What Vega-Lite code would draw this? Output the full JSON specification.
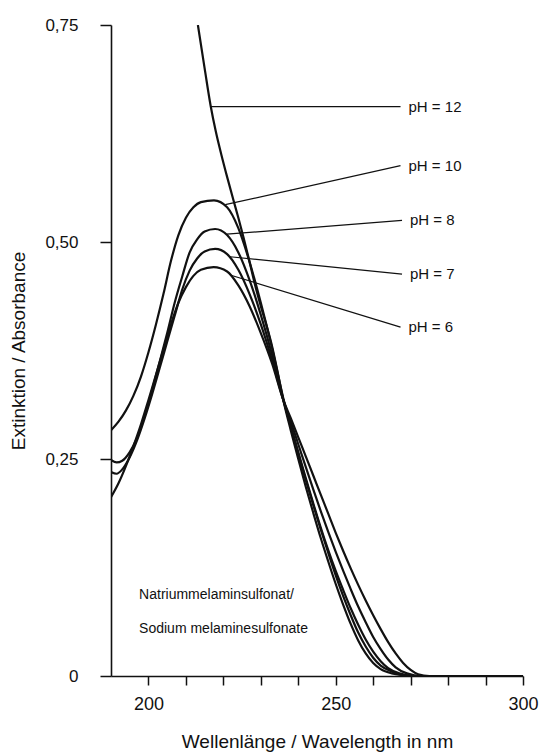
{
  "$schema": "https://vega.github.io/schema/vega-lite/v6.json",
  "width": 412,
  "height": 651,
  "autosize": {"type": "none"},
  "padding": {"left": 111, "top": 25, "right": 21, "bottom": 79},
  "background": "white",
  "config": {
    "view": {"stroke": null},
    "font": "Liberation Sans",
    "axis": {
      "grid": false,
      "domainColor": "#111",
      "domainWidth": 1.6,
      "tickColor": "#111",
      "tickWidth": 1.5,
      "labelColor": "#111",
      "titleColor": "#111",
      "labelFont": "Liberation Sans",
      "titleFont": "Liberation Sans",
      "titleFontWeight": "normal"
    }
  },
  "datasets": {
    "curves": [
      {"ph": "12", "nm": 213.2, "a": 0.75}, {"ph": "12", "nm": 215, "a": 0.70}, {"ph": "12", "nm": 216.6, "a": 0.657}, {"ph": "12", "nm": 218, "a": 0.627}, {"ph": "12", "nm": 219.5, "a": 0.600}, {"ph": "12", "nm": 221, "a": 0.575}, {"ph": "12", "nm": 222.7, "a": 0.548}, {"ph": "12", "nm": 224, "a": 0.528}, {"ph": "12", "nm": 225.4, "a": 0.505}, {"ph": "12", "nm": 227, "a": 0.477}, {"ph": "12", "nm": 228.5, "a": 0.450}, {"ph": "12", "nm": 230, "a": 0.426}, {"ph": "12", "nm": 231.5, "a": 0.404}, {"ph": "12", "nm": 233, "a": 0.38}, {"ph": "12", "nm": 234.5, "a": 0.35}, {"ph": "12", "nm": 236, "a": 0.318}, {"ph": "12", "nm": 238, "a": 0.283}, {"ph": "12", "nm": 240, "a": 0.25}, {"ph": "12", "nm": 242, "a": 0.218}, {"ph": "12", "nm": 244, "a": 0.188}, {"ph": "12", "nm": 246, "a": 0.159}, {"ph": "12", "nm": 248, "a": 0.132}, {"ph": "12", "nm": 250, "a": 0.106}, {"ph": "12", "nm": 252, "a": 0.082}, {"ph": "12", "nm": 254, "a": 0.06}, {"ph": "12", "nm": 256, "a": 0.041}, {"ph": "12", "nm": 258, "a": 0.026}, {"ph": "12", "nm": 260, "a": 0.015}, {"ph": "12", "nm": 262, "a": 0.008}, {"ph": "12", "nm": 265, "a": 0.003}, {"ph": "12", "nm": 268, "a": 0.001}, {"ph": "12", "nm": 271, "a": 0}, {"ph": "12", "nm": 300, "a": 0},

      {"ph": "10", "nm": 190, "a": 0.283}, {"ph": "10", "nm": 192, "a": 0.293}, {"ph": "10", "nm": 194, "a": 0.306}, {"ph": "10", "nm": 196, "a": 0.323}, {"ph": "10", "nm": 198, "a": 0.345}, {"ph": "10", "nm": 200, "a": 0.373}, {"ph": "10", "nm": 202, "a": 0.405}, {"ph": "10", "nm": 204, "a": 0.44}, {"ph": "10", "nm": 206, "a": 0.478}, {"ph": "10", "nm": 208, "a": 0.508}, {"ph": "10", "nm": 210, "a": 0.528}, {"ph": "10", "nm": 212, "a": 0.54}, {"ph": "10", "nm": 214, "a": 0.546}, {"ph": "10", "nm": 217.5, "a": 0.548}, {"ph": "10", "nm": 221, "a": 0.54}, {"ph": "10", "nm": 224, "a": 0.516}, {"ph": "10", "nm": 227, "a": 0.477}, {"ph": "10", "nm": 230, "a": 0.43}, {"ph": "10", "nm": 233, "a": 0.378}, {"ph": "10", "nm": 236, "a": 0.32}, {"ph": "10", "nm": 238, "a": 0.287}, {"ph": "10", "nm": 240, "a": 0.256}, {"ph": "10", "nm": 242, "a": 0.226}, {"ph": "10", "nm": 244, "a": 0.197}, {"ph": "10", "nm": 246, "a": 0.169}, {"ph": "10", "nm": 248, "a": 0.142}, {"ph": "10", "nm": 250, "a": 0.116}, {"ph": "10", "nm": 252, "a": 0.092}, {"ph": "10", "nm": 254, "a": 0.07}, {"ph": "10", "nm": 256, "a": 0.05}, {"ph": "10", "nm": 258, "a": 0.034}, {"ph": "10", "nm": 260, "a": 0.021}, {"ph": "10", "nm": 262, "a": 0.012}, {"ph": "10", "nm": 265, "a": 0.005}, {"ph": "10", "nm": 268, "a": 0.001}, {"ph": "10", "nm": 271, "a": 0}, {"ph": "10", "nm": 300, "a": 0},

      {"ph": "8", "nm": 190, "a": 0.249}, {"ph": "8", "nm": 191.5, "a": 0.246}, {"ph": "8", "nm": 193, "a": 0.248}, {"ph": "8", "nm": 195, "a": 0.258}, {"ph": "8", "nm": 197, "a": 0.275}, {"ph": "8", "nm": 199, "a": 0.3}, {"ph": "8", "nm": 201, "a": 0.33}, {"ph": "8", "nm": 203, "a": 0.362}, {"ph": "8", "nm": 205, "a": 0.395}, {"ph": "8", "nm": 207, "a": 0.43}, {"ph": "8", "nm": 209, "a": 0.46}, {"ph": "8", "nm": 211, "a": 0.488}, {"ph": "8", "nm": 213, "a": 0.503}, {"ph": "8", "nm": 215, "a": 0.512}, {"ph": "8", "nm": 217.8, "a": 0.515}, {"ph": "8", "nm": 221, "a": 0.508}, {"ph": "8", "nm": 224, "a": 0.488}, {"ph": "8", "nm": 227, "a": 0.456}, {"ph": "8", "nm": 230, "a": 0.416}, {"ph": "8", "nm": 233, "a": 0.37}, {"ph": "8", "nm": 236, "a": 0.318}, {"ph": "8", "nm": 238, "a": 0.288}, {"ph": "8", "nm": 240, "a": 0.258}, {"ph": "8", "nm": 242, "a": 0.228}, {"ph": "8", "nm": 244, "a": 0.199}, {"ph": "8", "nm": 246, "a": 0.171}, {"ph": "8", "nm": 248, "a": 0.145}, {"ph": "8", "nm": 250, "a": 0.121}, {"ph": "8", "nm": 252, "a": 0.099}, {"ph": "8", "nm": 254, "a": 0.078}, {"ph": "8", "nm": 256, "a": 0.059}, {"ph": "8", "nm": 258, "a": 0.042}, {"ph": "8", "nm": 260, "a": 0.028}, {"ph": "8", "nm": 262, "a": 0.017}, {"ph": "8", "nm": 264, "a": 0.009}, {"ph": "8", "nm": 267, "a": 0.003}, {"ph": "8", "nm": 271, "a": 0}, {"ph": "8", "nm": 300, "a": 0},

      {"ph": "7", "nm": 190, "a": 0.235}, {"ph": "7", "nm": 191.5, "a": 0.233}, {"ph": "7", "nm": 193, "a": 0.238}, {"ph": "7", "nm": 195, "a": 0.252}, {"ph": "7", "nm": 197, "a": 0.272}, {"ph": "7", "nm": 199, "a": 0.297}, {"ph": "7", "nm": 201, "a": 0.325}, {"ph": "7", "nm": 203, "a": 0.355}, {"ph": "7", "nm": 205, "a": 0.385}, {"ph": "7", "nm": 207, "a": 0.415}, {"ph": "7", "nm": 209, "a": 0.445}, {"ph": "7", "nm": 211, "a": 0.467}, {"ph": "7", "nm": 213, "a": 0.481}, {"ph": "7", "nm": 215, "a": 0.489}, {"ph": "7", "nm": 217.8, "a": 0.492}, {"ph": "7", "nm": 221, "a": 0.486}, {"ph": "7", "nm": 224, "a": 0.468}, {"ph": "7", "nm": 227, "a": 0.44}, {"ph": "7", "nm": 230, "a": 0.405}, {"ph": "7", "nm": 233, "a": 0.364}, {"ph": "7", "nm": 236, "a": 0.318}, {"ph": "7", "nm": 238, "a": 0.293}, {"ph": "7", "nm": 240, "a": 0.267}, {"ph": "7", "nm": 242, "a": 0.241}, {"ph": "7", "nm": 244, "a": 0.215}, {"ph": "7", "nm": 246, "a": 0.19}, {"ph": "7", "nm": 248, "a": 0.166}, {"ph": "7", "nm": 250, "a": 0.143}, {"ph": "7", "nm": 252, "a": 0.121}, {"ph": "7", "nm": 254, "a": 0.1}, {"ph": "7", "nm": 256, "a": 0.08}, {"ph": "7", "nm": 258, "a": 0.062}, {"ph": "7", "nm": 260, "a": 0.045}, {"ph": "7", "nm": 262, "a": 0.031}, {"ph": "7", "nm": 264, "a": 0.019}, {"ph": "7", "nm": 266, "a": 0.01}, {"ph": "7", "nm": 269, "a": 0.003}, {"ph": "7", "nm": 273, "a": 0}, {"ph": "7", "nm": 300, "a": 0},

      {"ph": "6", "nm": 190, "a": 0.206}, {"ph": "6", "nm": 192, "a": 0.222}, {"ph": "6", "nm": 194, "a": 0.242}, {"ph": "6", "nm": 196, "a": 0.265}, {"ph": "6", "nm": 198, "a": 0.29}, {"ph": "6", "nm": 200, "a": 0.318}, {"ph": "6", "nm": 202, "a": 0.347}, {"ph": "6", "nm": 204, "a": 0.376}, {"ph": "6", "nm": 206, "a": 0.405}, {"ph": "6", "nm": 208, "a": 0.43}, {"ph": "6", "nm": 210, "a": 0.448}, {"ph": "6", "nm": 212, "a": 0.461}, {"ph": "6", "nm": 214, "a": 0.468}, {"ph": "6", "nm": 217.4, "a": 0.471}, {"ph": "6", "nm": 221, "a": 0.466}, {"ph": "6", "nm": 224, "a": 0.45}, {"ph": "6", "nm": 227, "a": 0.426}, {"ph": "6", "nm": 230, "a": 0.395}, {"ph": "6", "nm": 233, "a": 0.36}, {"ph": "6", "nm": 236, "a": 0.318}, {"ph": "6", "nm": 238, "a": 0.297}, {"ph": "6", "nm": 240, "a": 0.275}, {"ph": "6", "nm": 242, "a": 0.253}, {"ph": "6", "nm": 244, "a": 0.231}, {"ph": "6", "nm": 246, "a": 0.209}, {"ph": "6", "nm": 248, "a": 0.187}, {"ph": "6", "nm": 250, "a": 0.165}, {"ph": "6", "nm": 252, "a": 0.144}, {"ph": "6", "nm": 254, "a": 0.124}, {"ph": "6", "nm": 256, "a": 0.105}, {"ph": "6", "nm": 258, "a": 0.087}, {"ph": "6", "nm": 260, "a": 0.07}, {"ph": "6", "nm": 262, "a": 0.054}, {"ph": "6", "nm": 264, "a": 0.039}, {"ph": "6", "nm": 266, "a": 0.026}, {"ph": "6", "nm": 268, "a": 0.015}, {"ph": "6", "nm": 270, "a": 0.007}, {"ph": "6", "nm": 272, "a": 0.002}, {"ph": "6", "nm": 275, "a": 0}, {"ph": "6", "nm": 300, "a": 0}
    ],
    "leaders": [
      {"label": "pH = 12", "x1": 216.5, "y1": 0.656, "x2": 267.3, "y2": 0.656},
      {"label": "pH = 10", "x1": 220.5, "y1": 0.543, "x2": 267.3, "y2": 0.588},
      {"label": "pH = 8", "x1": 220.9, "y1": 0.509, "x2": 267.7, "y2": 0.525},
      {"label": "pH = 7", "x1": 221.8, "y1": 0.483, "x2": 267.7, "y2": 0.463},
      {"label": "pH = 6", "x1": 221.8, "y1": 0.462, "x2": 267.3, "y2": 0.402}
    ],
    "notes": [
      {"text": "Natriummelaminsulfonat/", "nm": 197.5, "a": 0.093},
      {"text": "Sodium melaminesulfonate", "nm": 197.5, "a": 0.054}
    ]
  },
  "layer": [
    {
      "data": {"name": "curves"},
      "mark": {"type": "line", "interpolate": "monotone", "strokeWidth": 2.2, "color": "#111", "clip": true},
      "encoding": {
        "x": {
          "field": "nm", "type": "quantitative",
          "title": "Wellenlänge / Wavelength in nm",
          "scale": {"domain": [190, 300], "nice": false, "zero": false},
          "axis": {
            "titleFontSize": 19,
            "titlePadding": 19,
            "values": [200, 210, 220, 230, 240, 250, 260, 270, 280, 290, 300],
            "labelExpr": "(datum.value == 200 || datum.value == 250 || datum.value == 300) ? datum.label : ''",
            "labelFontSize": 18,
            "labelPadding": 10,
            "labelOverlap": false,
            "labelFlush": false,
            "tickSize": 9
          }
        },
        "y": {
          "field": "a", "type": "quantitative",
          "title": "Extinktion / Absorbance",
          "scale": {"domain": [0, 0.75], "nice": false},
          "axis": {
            "titleFontSize": 19,
            "titlePadding": 16,
            "values": [0, 0.25, 0.5, 0.75],
            "labelExpr": "datum.value == 0 ? '0' : replace(format(datum.value, '.2f'), '.', ',')",
            "labelFontSize": 17,
            "labelPadding": 22,
            "tickSize": 11
          }
        },
        "detail": {"field": "ph"}
      }
    },
    {
      "mark": {"type": "rule", "strokeWidth": 1.6, "color": "#111"},
      "encoding": {"x": {"datum": 300, "type": "quantitative", "title": "Wellenlänge / Wavelength in nm"}}
    },
    {
      "data": {"name": "leaders"},
      "mark": {"type": "rule", "strokeWidth": 1.2, "color": "#111"},
      "encoding": {
        "x": {"field": "x1", "type": "quantitative", "title": "Wellenlänge / Wavelength in nm"},
        "y": {"field": "y1", "type": "quantitative", "title": "Extinktion / Absorbance"},
        "x2": {"field": "x2"},
        "y2": {"field": "y2"}
      }
    },
    {
      "data": {"name": "leaders"},
      "mark": {"type": "text", "align": "left", "baseline": "middle", "dx": 8, "fontSize": 15, "color": "#111", "font": "Liberation Sans"},
      "encoding": {
        "x": {"field": "x2", "type": "quantitative", "title": "Wellenlänge / Wavelength in nm"},
        "y": {"field": "y2", "type": "quantitative", "title": "Extinktion / Absorbance"},
        "text": {"field": "label"}
      }
    },
    {
      "data": {"name": "notes"},
      "mark": {"type": "text", "align": "left", "baseline": "middle", "fontSize": 14, "color": "#111", "font": "Liberation Sans"},
      "encoding": {
        "x": {"field": "nm", "type": "quantitative", "title": "Wellenlänge / Wavelength in nm"},
        "y": {"field": "a", "type": "quantitative", "title": "Extinktion / Absorbance"},
        "text": {"field": "text"}
      }
    }
  ]
}
